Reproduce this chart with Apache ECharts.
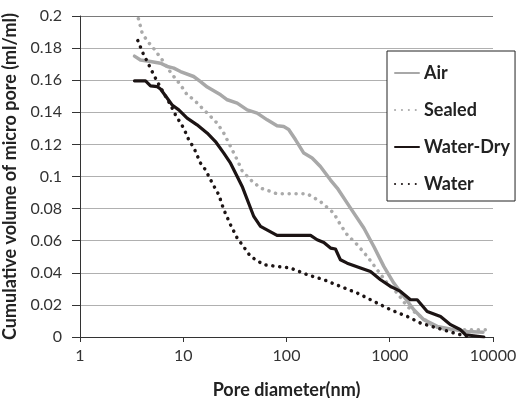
<!DOCTYPE html>
<html>
<head>
<meta charset="utf-8">
<script src="https://cdn.jsdelivr.net/npm/echarts@6/dist/echarts.min.js"></script>
<style>
  html, body { margin: 0; padding: 0; background: #fff; }
  #chart { width: 518px; height: 398px; }
</style>
</head>
<body>
<div id="chart"></div>
<script>
// Cumulative micro-pore volume (ml/ml) against pore diameter (nm)
const seriesNames = ['Air', 'Sealed', 'Water-Dry', 'Water'];

const airData = [
  [3.37, 0.175], [3.85, 0.1726], [4.82, 0.1716], [6.02, 0.1706], [7.0, 0.1685],
  [8.1, 0.1675], [9.4, 0.1654], [12.6, 0.1623], [14.7, 0.1591], [17.1, 0.1557],
  [23, 0.1509], [26.7, 0.1478], [33.3, 0.1457], [41.6, 0.1415], [52, 0.1395],
  [65, 0.1353], [81, 0.1316], [94, 0.1311], [105, 0.1293], [122, 0.123],
  [147, 0.1146], [177, 0.1115], [213, 0.1062], [267, 0.0978], [310, 0.0928],
  [417, 0.0803], [561, 0.0679], [701, 0.0564], [876, 0.044], [1094, 0.0336],
  [1367, 0.0253], [1710, 0.017], [2137, 0.0108], [2882, 0.0066], [4175, 0.0046],
  [5624, 0.0035], [8000, 0.003]
];

const sealedData = [
  [3.5, 0.2024], [3.71, 0.1976], [4.0, 0.1893], [4.53, 0.184], [5.0, 0.181],
  [5.6, 0.1768], [6.25, 0.1727], [7.25, 0.1664], [8.1, 0.1623], [9.4, 0.1571],
  [10.9, 0.1509], [12.7, 0.1478], [14.7, 0.1436], [18.4, 0.1374], [21.3, 0.1332],
  [24.7, 0.127], [28.7, 0.1187], [33.3, 0.1104], [37.2, 0.1035], [44.8, 0.098],
  [56, 0.0928], [70, 0.0907], [81, 0.0892], [118, 0.0892], [159, 0.0892],
  [213, 0.0844], [287, 0.0772], [333, 0.0699], [387, 0.0637], [484, 0.0575],
  [605, 0.0502], [755, 0.0419], [945, 0.0336], [1181, 0.0274], [1476, 0.019],
  [1985, 0.0128], [2672, 0.0066], [3597, 0.0045], [8790, 0.0045]
];

const waterDryData = [
  [3.37, 0.1596], [4.31, 0.1596], [4.82, 0.1565], [5.6, 0.156], [6.02, 0.1545],
  [7.0, 0.1488], [7.8, 0.1446], [9.05, 0.1415], [10.9, 0.1364], [13.6, 0.1322],
  [17.1, 0.127], [20.5, 0.1218], [24.7, 0.1146], [28.7, 0.1083], [33.3, 0.1],
  [37.2, 0.0938], [48.2, 0.0751], [56, 0.0689], [81, 0.0633], [171, 0.0633],
  [198, 0.0606], [230, 0.0589], [267, 0.0554], [298, 0.0548], [333, 0.0481],
  [387, 0.046], [521, 0.043], [651, 0.0408], [814, 0.0357], [1017, 0.0315],
  [1271, 0.0284], [1589, 0.0232], [1844, 0.0232], [2305, 0.0159], [3104, 0.0128],
  [3881, 0.0077], [4853, 0.0045], [5422, 0.0014], [8150, 0.0]
];

const waterData = [
  [3.63, 0.1847], [4.1, 0.1764], [4.48, 0.1716], [5.12, 0.164], [5.6, 0.1591],
  [6.48, 0.1519], [7.53, 0.1446], [8.41, 0.1384], [10.1, 0.1301], [11.3, 0.1229],
  [12.7, 0.1177], [14.7, 0.1083], [16.4, 0.1042], [19.1, 0.0959], [22.1, 0.0886],
  [24.7, 0.0793], [28.7, 0.0699], [33.3, 0.0616], [37.2, 0.0575], [44.8, 0.0502],
  [60.3, 0.045], [81, 0.044], [109, 0.043], [159, 0.0388], [230, 0.0357],
  [333, 0.0315], [484, 0.0274], [701, 0.0222], [1017, 0.017], [1476, 0.0128],
  [1985, 0.0087], [2882, 0.0056], [4175, 0.0025], [5624, 0.0004]
];

const xTickLabels = ['1', '10', '100', '1000', '10000'];
const yTitle = 'Cumulative volume of micro pore (ml/ml)';
const xTitle = 'Pore diameter(nm)';

const font = 'Lato, "Open Sans", sans-serif';
const gridColors = ['#b0b0b0', '#b0b0b0', '#b0b0b0', '#b0b0b0', '#b0b0b0', '#b0b0b0',
  '#b0b0b0', '#b0b0b0', '#b0b0b0', '#b0b0b0', '#7a7a7a'];

const chart = echarts.init(document.getElementById('chart'), null, { renderer: 'canvas' });

function lineSeries(name, data, color, width, dotted) {
  return {
    name: name,
    type: 'line',
    data: data,
    symbol: 'none',
    smooth: false,
    lineStyle: {
      color: color,
      width: width,
      type: dotted ? [0.1, 6.8] : 'solid',
      cap: 'round',
      join: 'round'
    },
    itemStyle: { color: color },
    emphasis: { disabled: true },
    animation: false
  };
}

chart.setOption({
  backgroundColor: '#fff',
  animation: false,
  grid: { left: 80, right: 25, top: 16, bottom: 61, containLabel: false, outerBoundsMode: 'none' },
  legend: {
    data: seriesNames,
    orient: 'vertical',
    left: 387,
    top: 51,
    padding: [13, 5, 8, 7],
    itemGap: 19,
    itemWidth: 24,
    itemHeight: 18,
    borderColor: '#222',
    borderWidth: 1,
    backgroundColor: '#fff',
    itemStyle: { opacity: 0 },
    textStyle: { fontFamily: font, fontWeight: 'bold', fontSize: 18, color: '#222' }
  },
  xAxis: {
    type: 'log',
    logBase: 10,
    min: 1,
    max: 10000,
    name: xTitle,
    nameLocation: 'middle',
    nameGap: 44,
    nameTextStyle: { fontFamily: font, fontWeight: 'bold', fontSize: 18, color: '#222' },
    axisLine: { show: true, lineStyle: { color: '#333', width: 1 } },
    axisTick: { show: true, inside: false, length: 5, lineStyle: { color: '#333' } },
    minorTick: { show: false },
    splitLine: { show: false },
    axisLabel: {
      fontFamily: font, fontSize: 16, color: '#333', margin: 11,
      formatter: function (v) {
        const i = Math.round(Math.log10(v));
        return xTickLabels[i] !== undefined ? xTickLabels[i] : '';
      }
    }
  },
  yAxis: {
    type: 'value',
    min: 0,
    max: 0.2,
    interval: 0.02,
    name: yTitle,
    nameLocation: 'middle',
    nameGap: 50,
    nameTextStyle: { fontFamily: font, fontWeight: 'bold', fontSize: 18, color: '#222' },
    axisLine: { show: true, lineStyle: { color: '#333', width: 1 } },
    axisTick: { show: true, inside: false, length: 8, lineStyle: { color: '#333' } },
    splitLine: { show: true, lineStyle: { color: gridColors, width: 1 } },
    axisLabel: {
      fontFamily: font, fontSize: 16, color: '#333', margin: 18,
      formatter: function (v) { return String(parseFloat(v.toFixed(2))); }
    }
  },
  series: [
    lineSeries('Air', airData, '#a8a8a8', 3.5, false),
    lineSeries('Sealed', sealedData, '#aaaaaa', 3.5, true),
    lineSeries('Water-Dry', waterDryData, '#1c1414', 3.2, false),
    lineSeries('Water', waterData, '#1c1414', 3.5, true)
  ]
});
</script>
</body>
</html>
